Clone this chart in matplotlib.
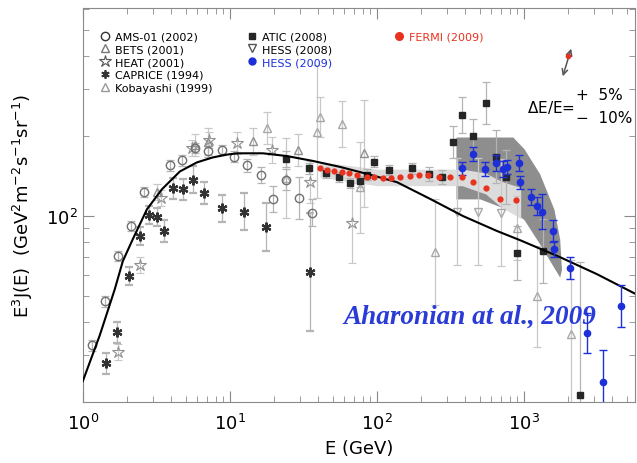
import numpy as np
import matplotlib.pyplot as plt
from matplotlib.lines import Line2D

# smooth model curve
curve_e = [1.0, 1.305, 1.651, 1.871, 2.188, 2.73, 3.45, 4.57, 5.97, 7.66, 9.5, 11.2, 16.8,
           24.4, 36.7, 56.0, 89.6, 137, 230, 385, 655, 939, 1758, 3139, 5780]
curve_f = [24.0, 35.7, 53.2, 67.7, 81.9, 106, 126, 147, 159, 166, 170, 172, 172,
           168, 161, 153, 143, 134, 116, 100, 87.9, 81.2, 70.1, 60.5, 50.9]

# AMS-01 (2002)
ams_e = [1.15, 1.41, 1.73, 2.12, 2.60, 3.91, 4.71, 5.78, 7.08, 8.82, 10.6, 13.1, 16.3, 19.6, 24.0, 29.5, 36.1]
ams_f = [32.7, 47.9, 70.7, 91.7, 123, 155, 162, 180, 175, 177, 167, 155, 143, 116, 137, 117, 103]
ams_dex = [0.02, 0.02, 0.02, 0.02, 0.02, 0.02, 0.02, 0.02, 0.02, 0.02, 0.02, 0.025, 0.03, 0.05, 0.04, 0.08, 0.05]

# CAPRICE (1994)
cap_e = [1.43, 1.70, 2.06, 2.44, 2.81, 3.19, 3.56, 4.10, 4.79, 5.60, 6.65, 8.82, 12.5, 17.6, 35.0]
cap_f = [28.0, 36.6, 59.5, 84.1, 100.9, 99.1, 87.8, 127, 126, 137, 122, 107, 104, 90.9, 61.6]
cap_dex = [0.04, 0.04, 0.035, 0.035, 0.035, 0.035, 0.04, 0.04, 0.04, 0.05, 0.04, 0.05, 0.07, 0.09, 0.22]

# HEAT (2001)
heat_e = [1.73, 2.44, 3.39, 5.51, 7.20, 11.2, 19.3, 35.0, 67.6]
heat_f = [30.8, 65.4, 117, 180, 193, 188, 177, 134, 94.1]
heat_dex = [0.03, 0.03, 0.03, 0.03, 0.03, 0.04, 0.05, 0.08, 0.15]

# BETS (2001)
bets_e = [3.19, 5.78, 7.08, 14.3, 29.0, 81.6]
bets_f = [123, 185, 190, 191, 177, 172]
bets_dex = [0.03, 0.04, 0.05, 0.05, 0.06, 0.2]

# Kobayashi (1999)
koba_e = [17.9, 24.0, 39.1, 41.0, 57.8, 76.6, 248, 896, 1225, 2089]
koba_f = [214, 139, 207, 236, 222, 128, 73.2, 90.1, 50.0, 36.0]
koba_dex = [0.06, 0.15, 0.25, 0.075, 0.087, 0.17, 0.2, 0.12, 0.19, 0.28]

# ATIC (2008)
atic_e = [24.0, 34.5, 45.0, 55.1, 65.5, 76.6, 85.5, 95.4, 121, 173, 226, 277, 329, 379, 450,
          551, 645, 755, 896, 1347, 2404]
atic_f = [164, 151, 145, 140, 133, 135, 143, 160, 149, 151, 144, 140, 190, 240, 200,
          266, 167, 140, 72.6, 73.8, 21.2]
atic_dex = [0.03, 0.02, 0.02, 0.02, 0.02, 0.02, 0.02, 0.02, 0.02, 0.02, 0.025, 0.025, 0.06, 0.067,
            0.065, 0.08, 0.1, 0.1, 0.1, 0.12, 0.5]

# HESS (2008) points and systematic band
hess08_e = [350, 487, 698]
hess08_f = [104, 104, 103]
hess08_dex = [0.2, 0.2, 0.2]
hess08_band_e = [345, 500, 840, 1000, 1280, 1600, 1750, 1800]
hess08_band_hi = [198, 198, 198, 179, 144, 106, 82, 63]
hess08_band_lo = [116, 116, 104, 97, 78.5, 64, 59, 63]

# HESS (2009)
hess09_e = [379, 450, 543, 645, 720, 766, 925, 939, 1116, 1225, 1326, 1575, 1600, 2055, 2684, 3446, 4570]
hess09_f = [151, 171, 150, 158, 150, 153, 158, 134, 118, 109, 104, 87.9, 75.2, 63.8, 36.3, 23.8, 45.9]
hess09_dex = [0.025, 0.025, 0.025, 0.03, 0.03, 0.025, 0.03, 0.025, 0.03, 0.035, 0.065, 0.04, 0.03,
              0.04, 0.075, 0.12, 0.08]

# FERMI (2009) and its systematic band
fermi_e = [41.0, 45.7, 51.0, 57.8, 64.5, 73.1, 85.5, 95.4, 110, 125, 143, 168, 193, 222, 264,
           314, 379, 450, 551, 687, 883]
fermi_f = [151, 149, 148, 146, 145, 143, 140, 140, 139, 139, 140, 141, 143, 143, 140,
           140, 140, 134, 127, 116, 115]
fermi_band_e = [41, 100, 200, 380, 550, 700, 950]
fermi_band_hi = [160, 150, 150, 150, 145, 135, 128]
fermi_band_lo = [140, 130, 130, 130, 121, 108, 98]

# energy-scale arrow
escale_e = [1992]
escale_f = [400]
escale_top = (2122, 435)
escale_bot = (1814, 327)


def yerr(f, dex):
    f = np.array(f, dtype=float)
    d = np.array(dex, dtype=float)
    return [f - f / 10 ** d, f * 10 ** d - f]


fig = plt.figure(figsize=(6.37, 4.64), dpi=100)
ax = fig.add_axes([0.130, 0.131, 0.867, 0.850])
ax.set_xscale('log')
ax.set_yscale('log')
ax.set_xlim(1, 5700)
ax.set_ylim(20, 605)

ax.fill_between(hess08_band_e, hess08_band_lo, hess08_band_hi, color='#8e8e8e', lw=0, zorder=1)
ax.fill_between(fermi_band_e, fermi_band_lo, fermi_band_hi, color='#dcdcdc', lw=0, zorder=1.5)

eb = dict(ls='none', capsize=3, elinewidth=0.9, capthick=0.9, zorder=2)
ax.errorbar(koba_e, koba_f, yerr=yerr(koba_f, koba_dex), marker='^', ms=6, mfc='none',
            mec='#a8a8a8', ecolor='#c8c8c8', **eb)
ax.errorbar(bets_e, bets_f, yerr=yerr(bets_f, bets_dex), marker='^', ms=6, mfc='none',
            mec='#909090', ecolor='#c8c8c8', **eb)
ax.errorbar(heat_e, heat_f, yerr=yerr(heat_f, heat_dex), marker='*', ms=9, mfc='none',
            mec='#909090', mew=0.8, ecolor='#c8c8c8', **eb)
ax.errorbar(hess08_e, hess08_f, yerr=yerr(hess08_f, hess08_dex), marker='v', ms=6, mfc='none',
            mec='#a8a8a8', ecolor='#c8c8c8', **eb)
ax.errorbar(ams_e, ams_f, yerr=yerr(ams_f, ams_dex), marker='o', ms=6, mfc='none',
            mec='#707070', ecolor='#b4b4b4', **eb)
ax.errorbar(cap_e, cap_f, yerr=yerr(cap_f, cap_dex), marker=(6, 2, 0), ms=7, mew=1.6,
            color='#333333', ecolor='#b4b4b4', **eb)
ax.errorbar(atic_e, atic_f, yerr=yerr(atic_f, atic_dex), marker='s', ms=4.5,
            color='#262626', ecolor='#b4b4b4', **eb)

ax.plot(curve_e, curve_f, color='black', lw=1.5, zorder=3)

ax.errorbar(hess09_e, hess09_f, yerr=yerr(hess09_f, hess09_dex), marker='o', ms=4.5,
            color='#1c2fd8', ecolor='#1c2fd8', ls='none', capsize=3, elinewidth=1, zorder=4)
ax.plot(fermi_e, fermi_f, 'o', ms=4.5, color='#e8321e', mec='none', zorder=5)

# energy scale uncertainty arrow
ax.annotate('', xy=escale_top, xytext=escale_bot,
            arrowprops=dict(arrowstyle='<->', color='#555555', lw=1.1, mutation_scale=10))
ax.plot(escale_e, escale_f, 'o', ms=4, color='#e8321e', mec='none', zorder=6)
ax.text(0.848, 0.751, r'$\Delta$E/E=', transform=ax.transAxes, ha='center', va='center', fontsize=11)
ax.text(0.893, 0.781, '+  5%', transform=ax.transAxes, ha='left', va='center', fontsize=11)
ax.text(0.893, 0.723, '\u2212  10%', transform=ax.transAxes, ha='left', va='center', fontsize=11)

ax.text(0.471, 0.219, 'Aharonian at al., 2009', transform=ax.transAxes, ha='left', va='center',
        fontsize=19.5, style='italic', weight='bold', family='Liberation Serif', color='#2a3bd6')

# legends
lg = dict(loc='upper left', frameon=False, fontsize=8, borderpad=0, borderaxespad=0,
          handlelength=1.0, handletextpad=0.4, labelspacing=0.25)
h1 = [Line2D([], [], ls='none', marker='o', ms=6, mfc='none', mec='#333333'),
      Line2D([], [], ls='none', marker='^', ms=6, mfc='none', mec='#777777'),
      Line2D([], [], ls='none', marker='*', ms=9, mfc='none', mec='#555555', mew=0.8),
      Line2D([], [], ls='none', marker=(6, 2, 0), ms=6, mew=1.3, color='#333333'),
      Line2D([], [], ls='none', marker='^', ms=6, mfc='none', mec='#999999')]
l1 = ax.legend(h1, ['AMS-01 (2002)', 'BETS (2001)', 'HEAT (2001)', 'CAPRICE (1994)', 'Kobayashi (1999)'],
               bbox_to_anchor=(0.030, 0.940), **lg)
ax.add_artist(l1)
h2 = [Line2D([], [], ls='none', marker='s', ms=5, color='#262626'),
      Line2D([], [], ls='none', marker='v', ms=6, mfc='none', mec='#555555'),
      Line2D([], [], ls='none', marker='o', ms=5, color='#1c2fd8')]
l2 = ax.legend(h2, ['ATIC (2008)', 'HESS (2008)', 'HESS (2009)'],
               bbox_to_anchor=(0.296, 0.940), **lg)
l2.get_texts()[2].set_color('#1c2fd8')
ax.add_artist(l2)
h3 = [Line2D([], [], ls='none', marker='o', ms=5.5, color='#e8321e')]
l3 = ax.legend(h3, ['FERMI (2009)'], bbox_to_anchor=(0.5625, 0.940), **lg)
l3.get_texts()[0].set_color('#e8321e')

# axes styling
for s in ax.spines.values():
    s.set_color('#8a8a8a')
ax.tick_params(which='both', direction='in', top=True, right=True, colors='#8a8a8a',
               labelcolor='black', labelsize=13)
ax.tick_params(which='major', length=8)
ax.tick_params(which='minor', length=4)
ax.set_xticks([1, 10, 100, 1000])
ax.set_xticklabels([r'$10^0$', r'$10^1$', r'$10^2$', r'$10^3$'])
ax.set_yticks([100])
ax.set_yticklabels([r'$10^2$'])
ax.tick_params(axis='x', pad=8)
ax.set_xlabel('E (GeV)', fontsize=13)
ax.set_ylabel(r'E$^3$J(E)  (GeV$^2$m$^{-2}$s$^{-1}$sr$^{-1}$)', fontsize=13, labelpad=8)

fig.savefig('out.png', dpi=100)
